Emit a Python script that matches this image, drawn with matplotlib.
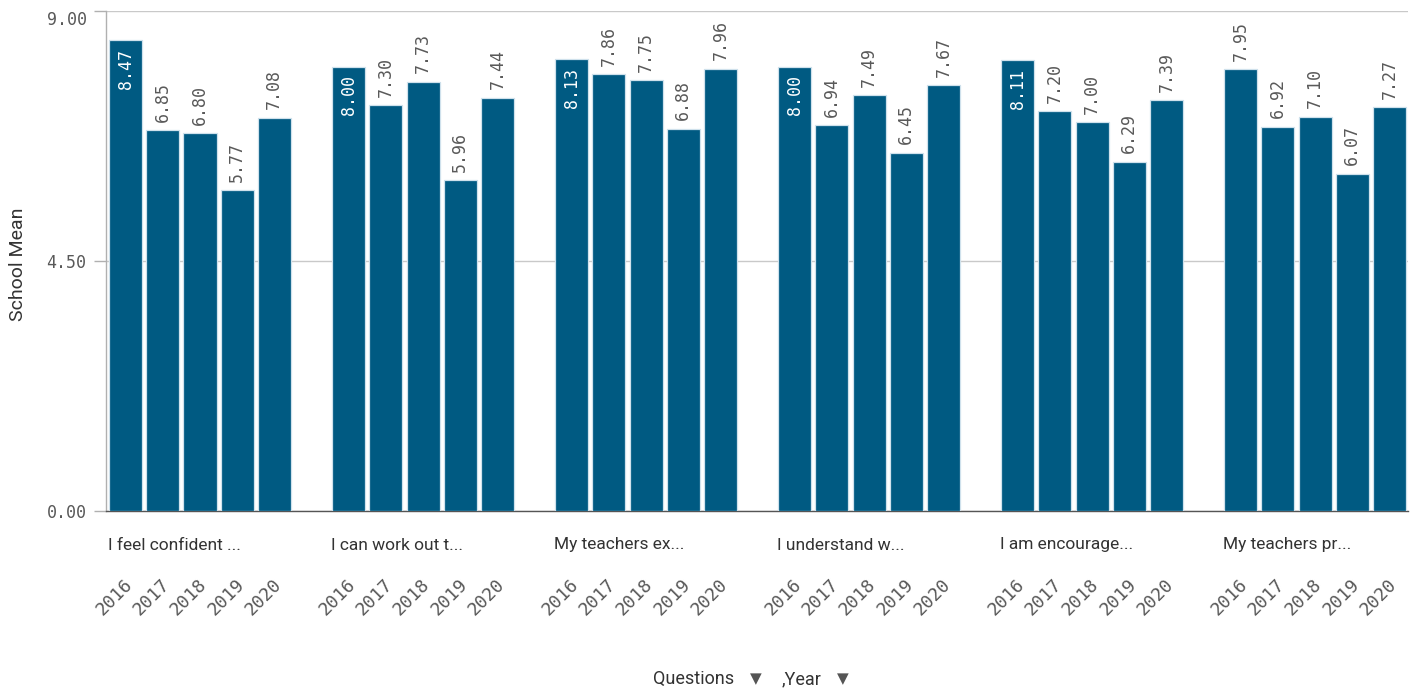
import matplotlib
matplotlib.use("Agg")
import matplotlib.pyplot as plt
import numpy as np

questions = [
    "I feel confident ...",
    "I can work out t...",
    "My teachers ex...",
    "I understand w...",
    "I am encourage...",
    "My teachers pr...",
]
years = ["2016", "2017", "2018", "2019", "2020"]
school_mean = [
    [8.47, 6.85, 6.80, 5.77, 7.08],
    [8.00, 7.30, 7.73, 5.96, 7.44],
    [8.13, 7.86, 7.75, 6.88, 7.96],
    [8.00, 6.94, 7.49, 6.45, 7.67],
    [8.11, 7.20, 7.00, 6.29, 7.39],
    [7.95, 6.92, 7.10, 6.07, 7.27],
]
y_ticks = [0.0, 4.5, 9.0]

BAR = "#005a82"
EDGE = "#cfe1ec"
TXT = "#595959"
GRID = "#c9c9c9"
MONO = "DejaVu Sans Mono"
SANS = ["Roboto", "DejaVu Sans"]

W, H = 1415, 693
fig = plt.figure(figsize=(W / 100, H / 100), dpi=100)
ax = fig.add_axes([106 / W, (H - 511) / H, (1408 - 106) / W, 500 / H])

n_years = len(years)
slot = n_years + 1
positions = []
values = []
for g, row in enumerate(school_mean):
    for j, v in enumerate(row):
        positions.append(g * slot + j)
        values.append(v)
positions = np.array(positions, dtype=float)
values = np.array(values)

ax.bar(positions, values, width=0.89, color=BAR, edgecolor=EDGE,
       linewidth=0.9, zorder=3)

ax.set_ylim(0, 9)
ax.set_xlim(-0.53, positions[-1] + 0.5)

# value labels: above the bar when there is room, otherwise inside at the top
room = 1.02
for x, v in zip(positions, values):
    txt = f"{v:.2f}"
    if v + room <= 9:
        ax.annotate(txt, (x, v), xytext=(0, 6), textcoords="offset points",
                    rotation=90, ha="center", va="bottom", color=TXT,
                    fontsize=12, family=MONO, zorder=4)
    else:
        ax.annotate(txt, (x, v), xytext=(0, -6), textcoords="offset points",
                    rotation=90, ha="center", va="top", color="white",
                    fontsize=12, family=MONO, zorder=4)

# axes styling
for s in ("top", "right"):
    ax.spines[s].set_visible(False)
ax.spines["left"].set_color("#b0b0b0")
ax.spines["left"].set_linewidth(1.0)
ax.spines["bottom"].set_color("#555555")
ax.spines["bottom"].set_linewidth(1.0)

ax.set_yticks(y_ticks)
ax.set_yticklabels([f"{t:.2f}" for t in y_ticks], family=MONO, fontsize=12,
                   color=TXT)
ax.tick_params(axis="y", length=9, width=1, color="#b0b0b0", pad=5)
ax.yaxis.grid(True, color=GRID, linewidth=1.0, zorder=0)
ax.set_axisbelow(True)
lab_top = ax.get_yticklabels()[-1]
lab_top.set_verticalalignment("top")
ax.set_xticks([])

fig.text(18 / W, 1 - 264 / H, "School Mean", rotation=90, ha="center",
         va="center", fontsize=14, color="#333333", family=SANS)

# category labels and year labels under the bars
trans = ax.get_xaxis_transform()
for g, q in enumerate(questions):
    ax.text(g * slot - 0.47, -0.068, q, transform=trans, ha="left",
            va="center", fontsize=12.5, color="#333333", family=SANS)
    for j, yr in enumerate(years):
        ax.annotate(yr, (g * slot + j, 0), xycoords=trans,
                    xytext=(3, -51), textcoords="offset points",
                    rotation=45, rotation_mode="anchor", ha="right",
                    va="center", fontsize=13, color=TXT, family=MONO)

# dimension title at the bottom
yb = 1 - 679 / H
fig.text(694 / W, yb, "Questions", ha="center", va="center", fontsize=13,
         color="#333333", family=SANS)
fig.text(756 / W, yb, "\u25BC", ha="center", va="center", fontsize=11,
         color="#555555", family="DejaVu Sans")
fig.text(802 / W, yb, ",Year", ha="center", va="center", fontsize=13,
         color="#333333", family=SANS)
fig.text(843 / W, yb, "\u25BC", ha="center", va="center", fontsize=11,
         color="#555555", family="DejaVu Sans")

fig.savefig("out.png", dpi=100, facecolor="white")
